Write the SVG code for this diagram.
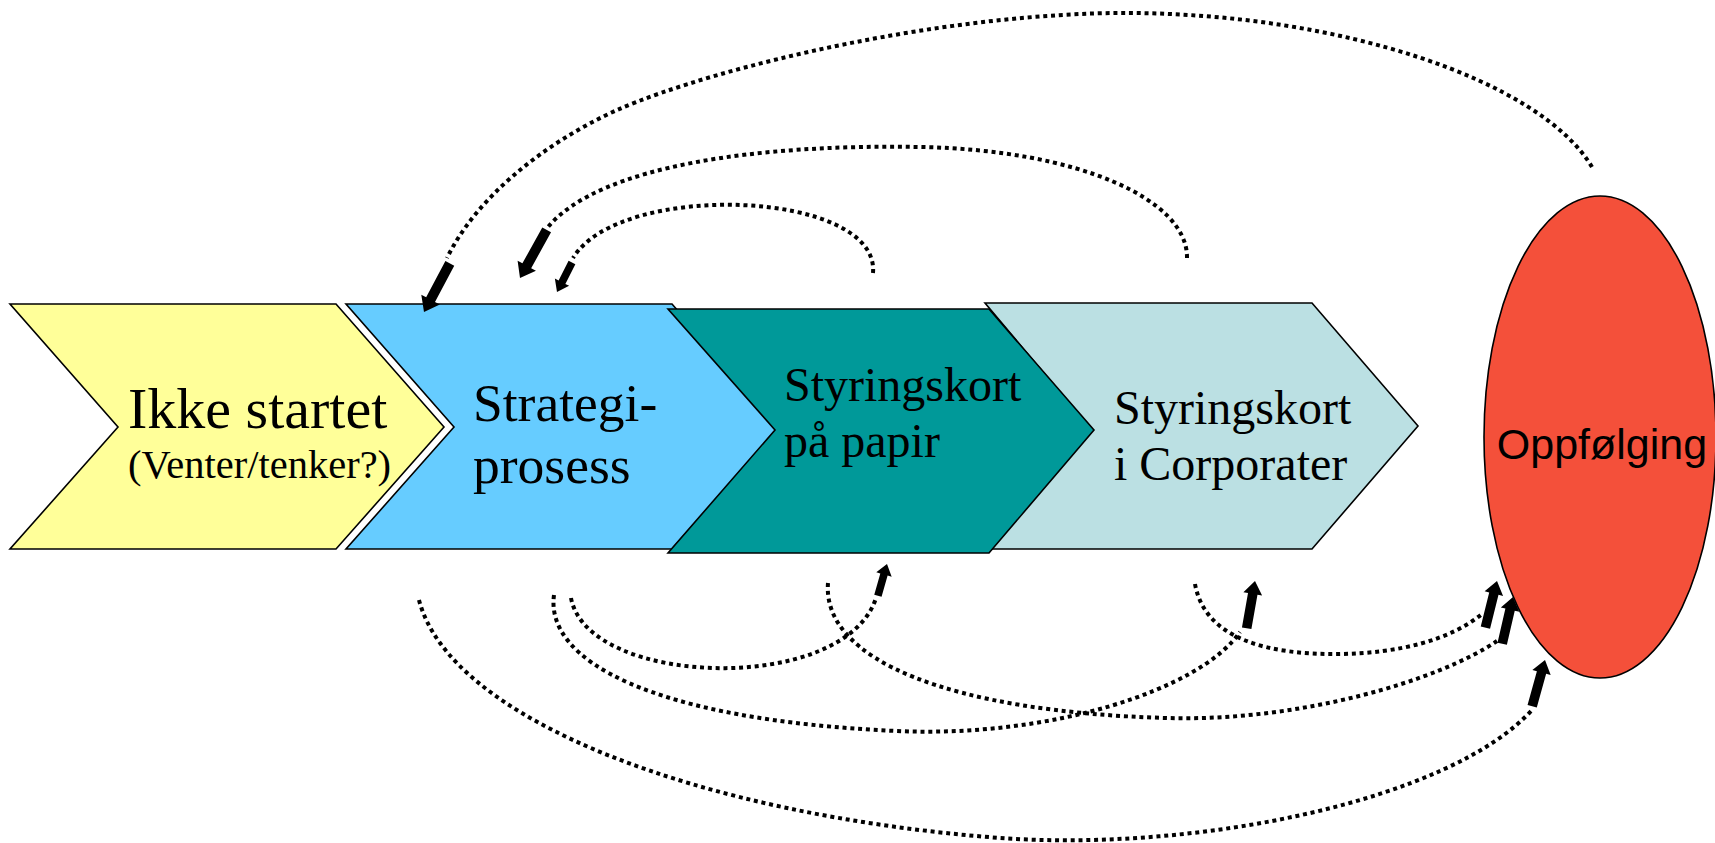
<svg xmlns="http://www.w3.org/2000/svg" xmlns:xlink="http://www.w3.org/1999/xlink" width="1715" height="843" viewBox="0 0 1715 843">
<style>
.shape{stroke:#000;stroke-width:1.6;stroke-linejoin:miter}
.serif{font-family:"Liberation Serif","Times New Roman",serif;fill:#000}
.sans{font-family:"Liberation Sans",Arial,sans-serif;fill:#000}
.dot{fill:none;stroke:#000;stroke-width:4;stroke-dasharray:4 3.8}
.blk{fill:#000}
</style>
<defs>
<path id="arrL" d="M0,0 L-14,-10.5 L-14,-5 L-55,-5 L-55,5 L-14,5 L-14,10.5 Z"/>
<path id="arrM" d="M0,0 L-13,-9.5 L-13,-4.8 L-48,-4.8 L-48,4.8 L-13,4.8 L-13,9.5 Z"/>
<path id="arrS" d="M0,0 L-11,-8 L-11,-3.8 L-33,-3.8 L-33,3.8 L-11,3.8 L-11,8 Z"/>
</defs>
<rect width="1715" height="843" fill="#fff"/>
<g id="node-ikke-startet">
<path class="shape" fill="#FFFF99" d="M10,304 L336,304 L444,427 L336,549 L10,549 L118,427 Z"/>
<text class="serif" x="128" y="428" font-size="58">Ikke startet</text>
<text class="serif" x="128" y="478" font-size="40.5">(Venter/tenker?)</text>
</g>
<g id="node-strategiprosess">
<path class="shape" fill="#66CCFF" d="M346,304 L672,304 L780,427 L672,549 L346,549 L454,427 Z"/>
<text class="serif" x="473" y="421" font-size="53.5">Strategi-</text>
<text class="serif" x="473" y="483" font-size="53.5">prosess</text>
</g>
<g id="node-corporater">
<path class="shape" fill="#BBE0E3" d="M985,303 L1312,303 L1418,426 L1312,549 L985,549 L1090,428 Z"/>
<text class="serif" x="1114" y="424" font-size="48">Styringskort</text>
<text class="serif" x="1114" y="480" font-size="48">i Corporater</text>
</g>
<g id="node-papir">
<path class="shape" fill="#009999" stroke-width="2" d="M668,309 L989,309 L1094,430 L989,553 L668,553 L775,430 Z"/>
<text class="serif" x="784" y="401" font-size="48">Styringskort</text>
<text class="serif" x="784" y="457" font-size="48">på papir</text>
</g>
<g id="node-oppfolging">
<ellipse class="shape" fill="#F4503A" cx="1600" cy="437" rx="116" ry="241"/>
<text class="sans" x="1602" y="459" font-size="43" text-anchor="middle">Oppfølging</text>
</g>
<g id="connectors">
<path class="dot" d="M1592,167 C1540,80 1340,14 1130,13 C950,12 720,65 617,110 C540,145 475,200 447,258"/>
<path class="dot" d="M1187,258 C1188,200 1080,150 920,147 C760,144 600,165 548,227"/>
<path class="dot" d="M873,273 C880,190 620,180 573,258"/>
<path class="dot" d="M419,600 C450,720 700,815 1000,838 C1200,852 1450,800 1532,710"/>
<path class="dot" d="M554,595 C545,660 650,720 897,731 C1050,738 1200,690 1240,632"/>
<path class="dot" d="M571,598 C588,688 845,695 876,598"/>
<path class="dot" d="M828,583 C822,660 950,712 1167,718 C1300,722 1440,680 1497,641"/>
<path class="dot" d="M1195,584 C1205,640 1270,655 1340,654 C1400,653 1450,640 1482,614"/>
<use class="blk" xlink:href="#arrL" transform="translate(424,312) rotate(118)"/>
<use class="blk" xlink:href="#arrL" transform="translate(520,278) rotate(119)"/>
<use class="blk" xlink:href="#arrS" transform="translate(557,292) rotate(117)"/>
<use class="blk" xlink:href="#arrS" transform="translate(887,564) rotate(-74)"/>
<use class="blk" xlink:href="#arrM" transform="translate(1255,581) rotate(-80)"/>
<use class="blk" xlink:href="#arrM" transform="translate(1497,581) rotate(-76)"/>
<use class="blk" xlink:href="#arrM" transform="translate(1513,597) rotate(-77)"/>
<use class="blk" xlink:href="#arrM" transform="translate(1545,660) rotate(-74.5)"/>
</g>
</svg>
